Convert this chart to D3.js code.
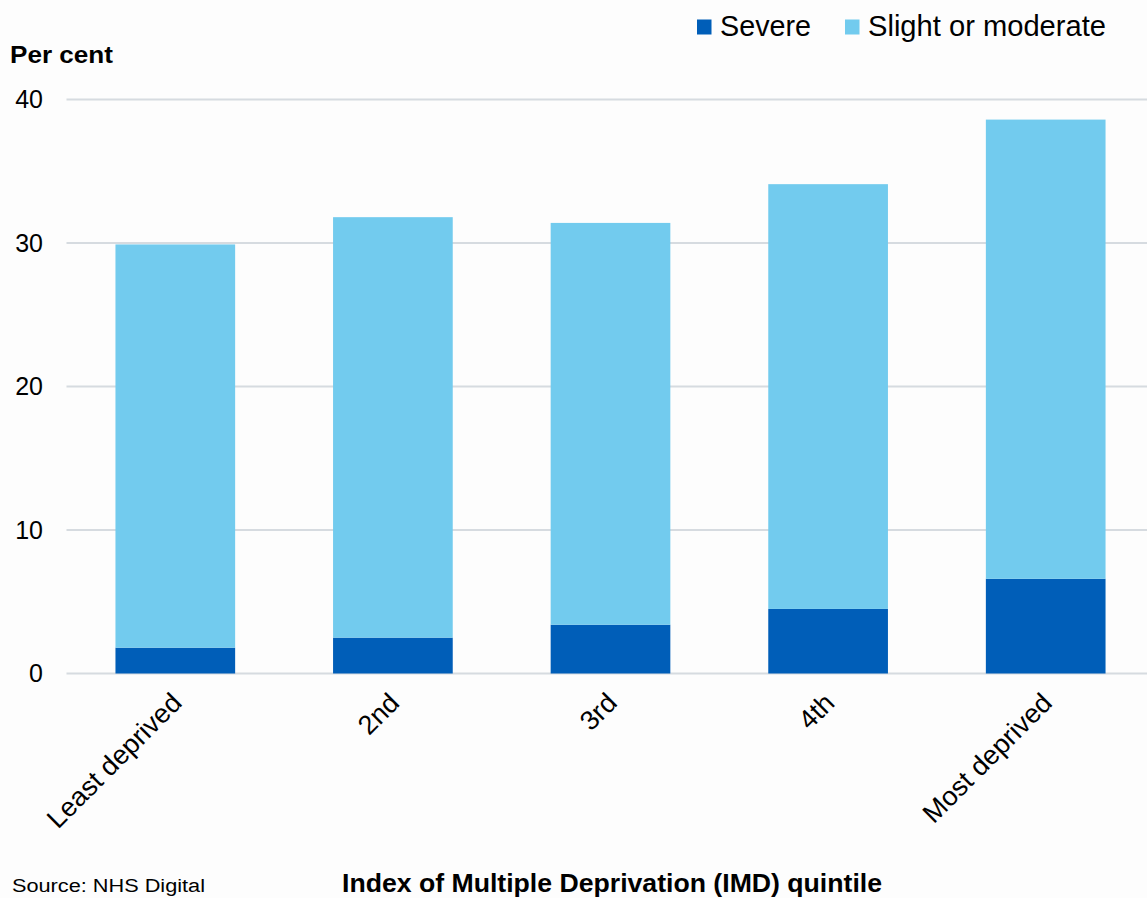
<!DOCTYPE html>
<html>
<head>
<meta charset="utf-8">
<script src="https://cdn.jsdelivr.net/npm/d3@7"></script>
<style>
  html, body { margin: 0; padding: 0; background: #fdfdfd; }
  svg { display: block; font-family: "Liberation Sans", Arial, sans-serif; }
</style>
</head>
<body>
<svg id="chart" width="1147" height="898"></svg>
<script>
// IMD quintiles and the share (per cent) in each severity group
const categories = ["Least deprived", "2nd", "3rd", "4th", "Most deprived"];
const severe = [1.8, 2.5, 3.4, 4.5, 6.6];
const slightOrModerate = [28.1, 29.3, 28.0, 29.6, 32.0];
const seriesNames = ["Severe", "Slight or moderate"];
const yTicks = [0, 10, 20, 30, 40];

const colors = { "Severe": "#005eb8", "Slight or moderate": "#72cbee" };

const svg = d3.select("#chart");

const rows = categories.map((c, i) => ({
  category: c,
  "Severe": severe[i],
  "Slight or moderate": slightOrModerate[i]
}));
const stacked = d3.stack().keys(seriesNames)(rows);

const x = d3.scaleBand()
  .domain(categories)
  .range([66.5, 1154.5])
  .paddingInner(0.45)
  .paddingOuter(0.225);

const y = d3.scaleLinear().domain([0, 40]).range([673.5, 99.5]);

// horizontal gridlines
svg.append("g")
  .selectAll("line")
  .data(yTicks)
  .join("line")
  .attr("x1", 66.5)
  .attr("x2", 1147)
  .attr("y1", d => y(d))
  .attr("y2", d => y(d))
  .attr("stroke", "#d6dbe0")
  .attr("stroke-width", 2);

// y tick labels
const yAxis = d3.axisLeft(y).tickValues(yTicks).tickSize(0).tickPadding(0);
const yg = svg.append("g").attr("transform", "translate(43,0)").call(yAxis);
yg.select(".domain").remove();
yg.selectAll("text")
  .attr("font-size", 25)
  .attr("fill", "#000")
  .attr("font-family", "Liberation Sans, Arial, sans-serif");

// stacked bars
svg.append("g")
  .selectAll("g")
  .data(stacked)
  .join("g")
  .attr("fill", d => colors[d.key])
  .selectAll("rect")
  .data(d => d)
  .join("rect")
  .attr("x", d => x(d.data.category))
  .attr("width", x.bandwidth())
  .attr("y", d => y(d[1]))
  .attr("height", d => y(d[0]) - y(d[1]));

// rotated category labels
const xAxis = d3.axisBottom(x).tickSize(0).tickPadding(0);
const xg = svg.append("g").attr("transform", "translate(0,673.5)").call(xAxis);
xg.select(".domain").remove();
xg.selectAll("text")
  .attr("font-size", 27)
  .attr("fill", "#000")
  .attr("font-family", "Liberation Sans, Arial, sans-serif")
  .attr("text-anchor", "end")
  .attr("dy", null)
  .attr("y", 0)
  .attr("transform", "translate(8,31) rotate(-45)");

// y axis title
svg.append("text")
  .attr("x", 10)
  .attr("y", 63)
  .attr("font-size", 24)
  .attr("font-weight", "bold")
  .attr("textLength", 103)
  .attr("lengthAdjust", "spacingAndGlyphs")
  .text("Per cent");

// x axis title
svg.append("text")
  .attr("x", 342)
  .attr("y", 892)
  .attr("font-size", 25)
  .attr("font-weight", "bold")
  .attr("textLength", 540)
  .attr("lengthAdjust", "spacingAndGlyphs")
  .text("Index of Multiple Deprivation (IMD) quintile");

// source note
svg.append("text")
  .attr("x", 12)
  .attr("y", 892)
  .attr("font-size", 18)
  .attr("textLength", 193)
  .attr("lengthAdjust", "spacingAndGlyphs")
  .text("Source: NHS  Digital");

// legend
const legendItems = [
  { name: seriesNames[0], sx: 697, tx: 720, w: 91 },
  { name: seriesNames[1], sx: 845, tx: 868, w: 238 }
];
const lg = svg.append("g");
lg.selectAll("rect")
  .data(legendItems)
  .join("rect")
  .attr("x", d => d.sx)
  .attr("y", 19.5)
  .attr("width", 14.5)
  .attr("height", 15)
  .attr("fill", d => colors[d.name]);
lg.selectAll("text")
  .data(legendItems)
  .join("text")
  .attr("x", d => d.tx)
  .attr("y", 36)
  .attr("font-size", 30)
  .attr("textLength", d => d.w)
  .attr("lengthAdjust", "spacingAndGlyphs")
  .text(d => d.name);
</script>
</body>
</html>
